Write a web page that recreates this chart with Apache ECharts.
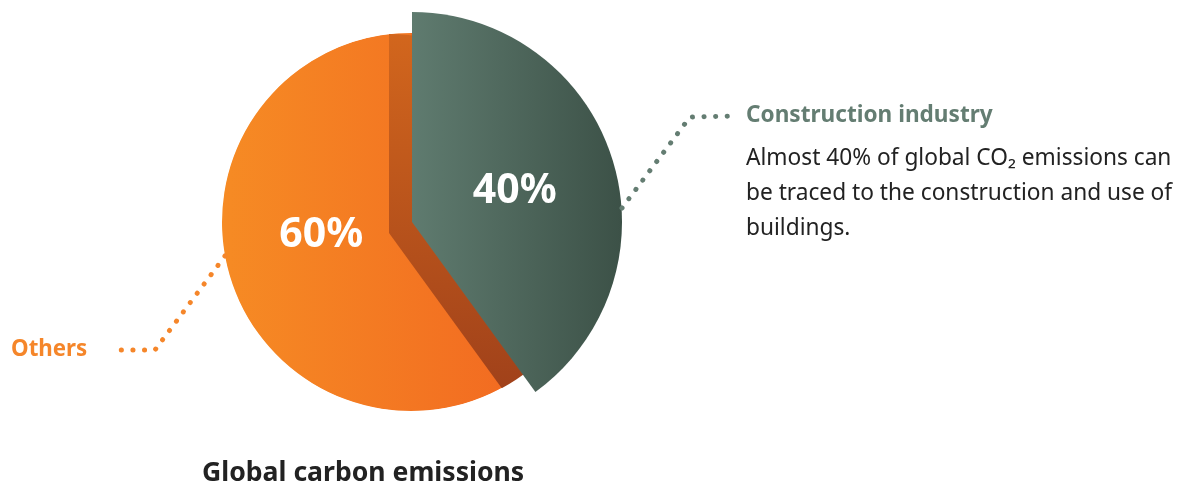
<!DOCTYPE html>
<html>
<head>
<meta charset="utf-8">
<script src="https://cdn.jsdelivr.net/npm/echarts@6/dist/echarts.min.js"></script>
<style>
html,body{margin:0;padding:0;background:#fff;}
#chart{width:1184px;height:484px;}
</style>
</head>
<body>
<div id="chart"></div>
<script>
// ---- data ----
var categories = ['Construction industry', 'Others'];
var values = [40, 60];
var chartTitle = 'Global carbon emissions';
var descriptionLines = [
  'Almost 40% of global CO\u2082 emissions can',
  'be traced to the construction and use of',
  'buildings.'
];

// ---- styles ----
var FONT = '"Noto Sans", "Open Sans", sans-serif';
var orangeGrad = new echarts.graphic.LinearGradient(0, 0, 1, 0, [
  {offset: 0, color: '#F68B24'}, {offset: 1, color: '#F26A21'}
]);
var greenGrad = new echarts.graphic.LinearGradient(0, 0, 1, 0, [
  {offset: 0, color: '#5F7B6F'}, {offset: 1, color: '#3C5147'}
]);
var shadowGrad = new echarts.graphic.LinearGradient(0, 0, 0, 1, [
  {offset: 0, color: '#D2661D'}, {offset: 1, color: '#A0411A'}
]);
var CX = 411, CY = 222;

function items(styler) {
  return categories.map(function (c, i) {
    var s = styler(c, i);
    var o = {name: c, value: values[i], itemStyle: {color: s.color}};
    o.label = s.label || {show: false};
    o.labelLine = s.labelLine || {show: false};
    return o;
  });
}

var pctLabel = function (offset) {
  return {
    show: true, position: 'inside', formatter: '{d}%',
    color: '#fff', fontFamily: FONT, fontWeight: 'bold', fontSize: 41,
    offset: offset
  };
};

var base = {
  animation: false, silent: true, startAngle: 90, clockwise: true,
  avoidLabelOverlap: false, emphasis: {disabled: true}
};

var option = {
  animation: false,
  backgroundColor: '#ffffff',
  title: {
    text: chartTitle, left: 197, top: 455,
    textStyle: {fontFamily: FONT, fontWeight: 'bold', fontSize: 26.6, color: '#222'}
  },
  series: [
    Object.assign({}, base, {
      type: 'pie', z: 1, center: [CX, CY], radius: 189,
      data: items(function (c, i) {
        return i === 1 ? {color: orangeGrad, label: pctLabel([3, -17])} : {color: '#F26A21'};
      })
    }),
    Object.assign({}, base, {
      type: 'pie', z: 2, center: [CX - 22, CY + 11], radius: 199,
      data: items(function (c, i) {
        return {color: i === 0 ? shadowGrad : 'rgba(0,0,0,0)'};
      })
    }),
    Object.assign({}, base, {
      type: 'pie', z: 3, center: [CX, CY], radius: [189.5, 225],
      data: [{name: 'ring', value: 1, itemStyle: {color: '#ffffff'}, label: {show: false}, labelLine: {show: false}}]
    }),
    Object.assign({}, base, {
      type: 'pie', z: 4, center: [CX + 1, CY], radius: 210,
      data: items(function (c, i) {
        return i === 0 ? {color: greenGrad, label: pctLabel([0, 3])} : {color: 'rgba(0,0,0,0)'};
      })
    }),
    Object.assign({}, base, {
      type: 'pie', z: 10, center: [CX, CY], radius: 189,
      data: items(function (c, i) {
        if (i === 0) {
          return {
            color: 'rgba(0,0,0,0)',
            label: {
              show: true, position: 'outside',
              formatter: '{t|' + c + '}\n' + descriptionLines.map(function (l) { return '{d|' + l + '}'; }).join('\n'),
              rich: {
                t: {fontFamily: FONT, fontWeight: 'bold', fontSize: 22.6, color: '#647D72', lineHeight: 51},
                d: {fontFamily: FONT, fontSize: 22.7, color: '#222', lineHeight: 35}
              }
            },
            labelLine: {show: true, lineStyle: {color: '#647D72', width: 5, type: [0.1, 11.5], cap: 'round'}}
          };
        }
        return {
          color: 'rgba(0,0,0,0)',
          label: {
            show: true, position: 'outside', formatter: c,
            fontFamily: FONT, fontWeight: 'bold', fontSize: 22.3, color: '#F5862A'
          },
          labelLine: {show: true, lineStyle: {color: '#F5862A', width: 5, type: [0.1, 11.5], cap: 'round'}}
        };
      }),
      labelLayout: function (p) {
        if (p.dataIndex === 0) {
          return {x: 746, y: 90, align: 'left', verticalAlign: 'top',
            labelLinePoints: [[622, 208], [690, 117], [733, 116]]};
        }
        return {x: 11, y: 350, align: 'left', verticalAlign: 'middle',
          labelLinePoints: [[225, 256], [155, 350], [115, 350]]};
      }
    })
  ]
};

var chart = echarts.init(document.getElementById('chart'), null, {renderer: 'canvas'});
chart.setOption(option);
</script>
</body>
</html>
